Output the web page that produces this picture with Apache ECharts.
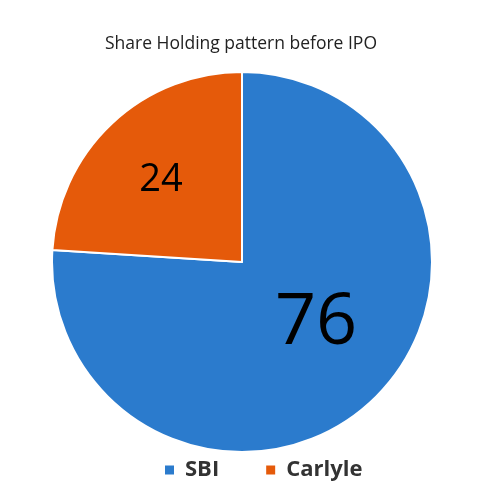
<!DOCTYPE html>
<html><head><meta charset="utf-8">
<script src="https://cdn.jsdelivr.net/npm/echarts@6/dist/echarts.min.js"></script>
<style>html,body{margin:0;padding:0;background:#fff}#c{width:482px;height:502px}</style>
</head><body><div id="c"></div>
<script>
const categories = ['SBI', 'Carlyle'];
const values = [76, 24];
const colors = ['#2B7BCD', '#E55A0A'];
const labelStyles = [
  {fontSize: 72, offset: [7, -10]},
  {fontSize: 38, offset: [-14, -10]}
];
const chart = echarts.init(document.getElementById('c'));
chart.setOption({
  animation: false,
  title: {
    text: 'Share Holding pattern before IPO',
    left: 'center', top: 30,
    textStyle: {fontFamily: 'Open Sans', fontSize: 17.5, fontWeight: 'normal', color: '#222'}
  },
  legend: {
    bottom: 16, left: 158,
    itemWidth: 11, itemHeight: 11, itemGap: 45,
    icon: 'rect',
    textStyle: {fontFamily: 'Open Sans', fontSize: 22, fontWeight: 'bold', color: '#333', padding: [0, 0, 0, 5]},
    data: categories
  },
  series: [{
    type: 'pie',
    center: [242, 262],
    radius: [0, 190],
    startAngle: 90,
    clockwise: true,
    itemStyle: {borderColor: '#fff', borderWidth: 2},
    label: {position: 'inside', color: '#000', fontFamily: 'Open Sans', formatter: '{c}'},
    labelLine: {show: false},
    emphasis: {disabled: true},
    data: categories.map((n, i) => ({
      name: n, value: values[i],
      itemStyle: {color: colors[i]},
      label: labelStyles[i]
    }))
  }]
});
</script></body></html>
